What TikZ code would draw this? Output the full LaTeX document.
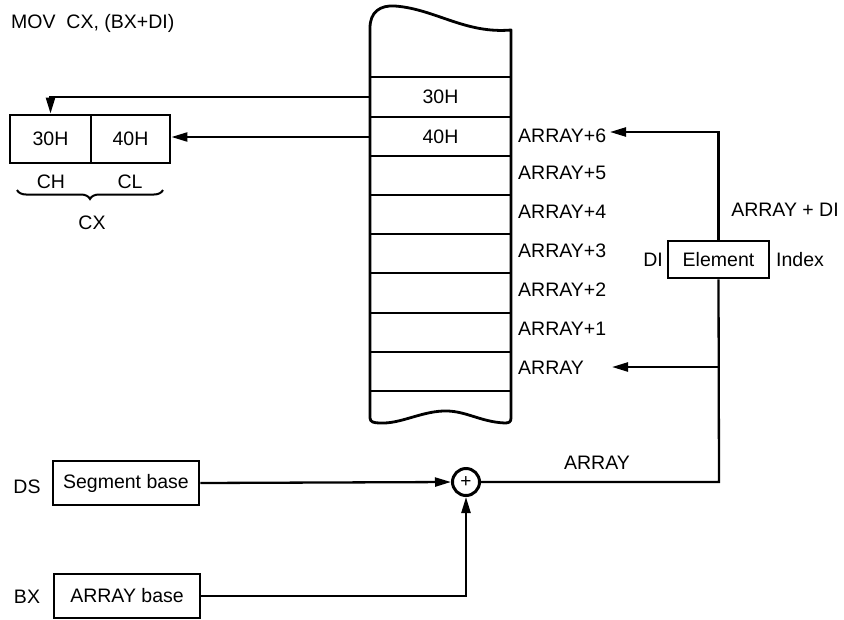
\documentclass[tikz,border=0pt]{standalone}
\usepackage{fontspec}
\setmainfont{Liberation Sans}
\usetikzlibrary{arrows.meta,decorations.pathreplacing}
\begin{document}
\begin{tikzpicture}[x=1pt,y=-1pt,
  every node/.style={font=\fontsize{19.5}{23}\selectfont, inner sep=0pt},
  box/.style={draw, line width=2.8pt, minimum height=44pt},
  cell/.style={minimum width=141pt, minimum height=39pt},
  lbl/.style={anchor=west},
  arr/.style={line width=2.3pt, -{Triangle[length=16pt,width=9pt]}},
  conn/.style={line width=2.3pt},
  colline/.style={line width=2.8pt}]
\useasboundingbox (0,0) rectangle (844,619);

% title
\node[lbl] (title) at (11,23) {MOV\ \ CX, (BX+DI)};

% memory column outline
\draw[colline, line join=round] (370,418) -- (370,28)
  .. controls (370,12) and (380,5) .. (395,6)
  .. controls (435,9) and (465,34) .. (511,30)
  -- (511,418)
  .. controls (511,422) and (509,423) .. (505,423)
  .. controls (480,422) and (465,410) .. (443,411)
  .. controls (420,412) and (400,424) .. (380,423)
  .. controls (374,423) and (370,422) .. (370,418);
\foreach \yy in {77,117,156,195,234,273,313,352,391}
  \draw[colline] (370,\yy) -- (511,\yy);

% memory cells
\node[cell] (m7) at (440.5,97) {30H};
\node[cell] (m6) at (440.5,137) {40H};

% address labels
\node[lbl] (l6) at (518,136) {ARRAY+6};
\node[lbl] (l5) at (518,173) {ARRAY+5};
\node[lbl] (l4) at (518,212) {ARRAY+4};
\node[lbl] (l3) at (518,251) {ARRAY+3};
\node[lbl] (l2) at (518,290) {ARRAY+2};
\node[lbl] (l1) at (518,329) {ARRAY+1};
\node[lbl] (l0) at (518,368) {ARRAY};

% CX register
\node[box, minimum width=81pt, minimum height=48pt] (ch) at (50.5,139) {30H};
\node[box, minimum width=79pt, minimum height=48pt] (cl) at (130.5,139) {40H};
\node (chl) at (51,182) {CH};
\node (cll) at (130,182) {CL};
\draw[line width=2pt, decorate, decoration={brace, mirror, amplitude=9pt}]
  (17,190) -- (163,190);
\node (cxl) at (92,223) {CX};

% transfers to CX
\draw[arr] (m7.west) -| (ch.north);
\draw[arr] (m6.west) -- (m6.west -| cl.east);

% DI register
\node[draw, line width=2.8pt, minimum width=101pt, minimum height=37pt] (elem) at (718.5,259.5) {Element};
\node (dil) at (653,260) {DI};
\node[lbl] (idx) at (776,260) {Index};
\node (adl) at (785,210) {ARRAY + DI};

% adder
\node[draw, circle, line width=3pt, minimum size=27pt, font=\fontsize{19}{19}\selectfont] (plus) at (466,482) {+};
\node (arl) at (597,463) {ARRAY};

% base registers
\node[box, minimum width=146pt] (seg) at (126,483) {Segment base};
\node (dsl) at (27,487) {DS};
\node[box, minimum width=146pt] (abase) at (127,596) {ARRAY base};
\node (bxl) at (27,597) {BX};

% connectors
\draw[arr] (seg.east) -- (plus.west);
\draw[arr] (abase.east) -| (plus.south);
\coordinate (corner) at (719,482);
\coordinate (a0) at (612,367);
\coordinate (a6) at (610,132);
\draw[conn] (plus.east) -- (corner) -- (elem.south);
\draw[arr] (a0 -| corner) -- (a0);
\draw[arr] (elem.north) |- (a6);
\end{tikzpicture}
\end{document}
